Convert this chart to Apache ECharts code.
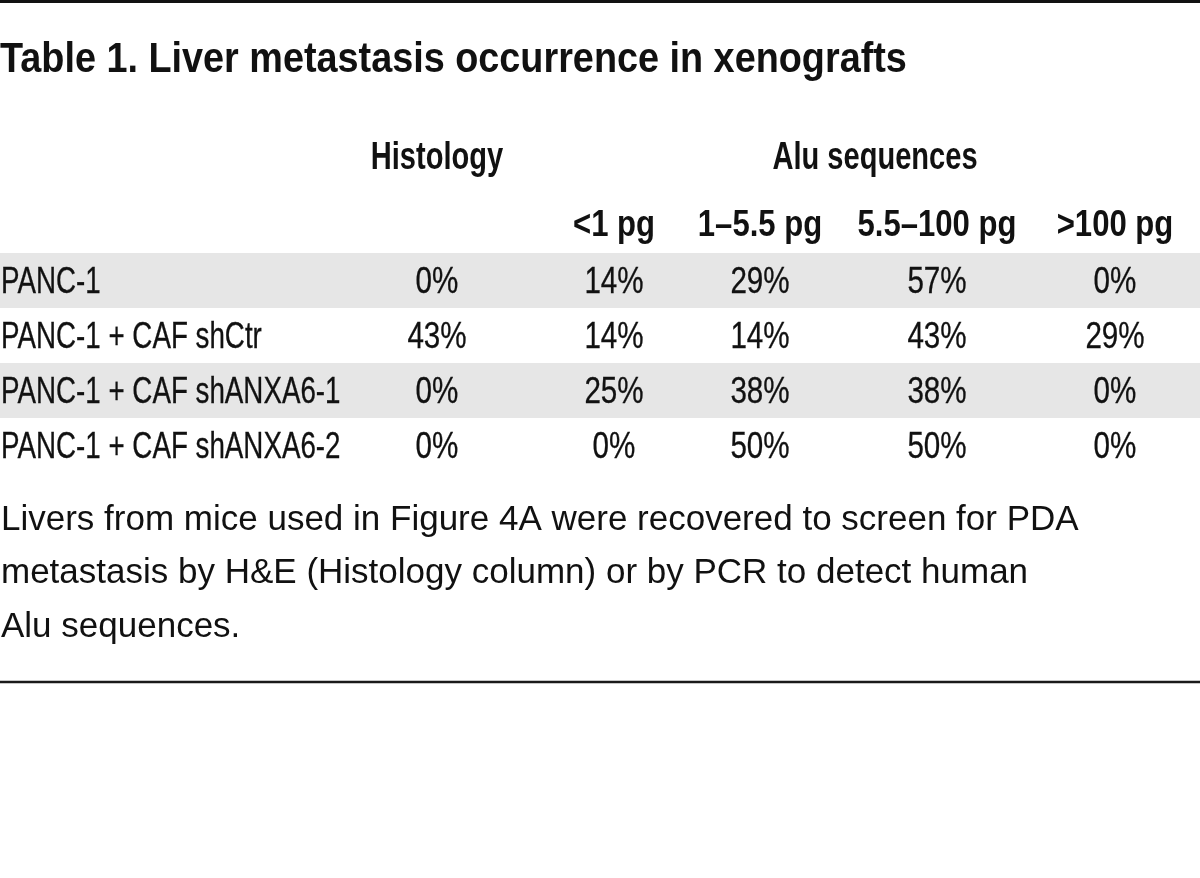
<!DOCTYPE html>
<html><head><meta charset="utf-8">
<script src="https://cdn.jsdelivr.net/npm/echarts@6.0.0/dist/echarts.min.js"></script>
<style>html,body{margin:0;padding:0;background:#fff}#chart{width:1200px;height:878px}</style>
</head><body><div id="chart"></div>
<script>
// ---- data ----
const titleText = 'Table 1. Liver metastasis occurrence in xenografts';
const groupHeaders = ['Histology', 'Alu sequences'];
const subHeaders = ['<1 pg', '1–5.5 pg', '5.5–100 pg', '>100 pg'];
const rowLabels = ['PANC-1', 'PANC-1 + CAF shCtr', 'PANC-1 + CAF shANXA6-1', 'PANC-1 + CAF shANXA6-2'];
const histology = [0, 43, 0, 0];
const aluLt1 = [14, 14, 25, 0];
const alu1to55 = [29, 14, 38, 50];
const alu55to100 = [57, 43, 38, 50];
const aluGt100 = [0, 29, 0, 0];
const footnoteLines = [
  'Livers from mice used in Figure 4A were recovered to screen for PDA',
  'metastasis by H&E (Histology column) or by PCR to detect human',
  'Alu sequences.'
];

// ---- layout / style ----
const W = 1200;
const colX = [437, 614, 760, 937, 1115];      // column centres
const groupX = [437, 875];
const FONT = '"Liberation Sans", Arial, sans-serif';
const ink = '#111111';
const columns = [histology, aluLt1, alu1to55, alu55to100, aluGt100];

const chart = echarts.init(document.getElementById('chart'), null, {renderer: 'canvas'});

function textCell(x, y, text, font, align, sx) {
  return {
    type: 'text', x: x, y: y, scaleX: sx, scaleY: 1,
    style: {text: text, fill: ink, font: font, align: align, verticalAlign: 'middle',
            stroke: ink, lineWidth: 0.3}
  };
}

const cellSeries = columns.map((vals, c) => ({
  type: 'custom',
  silent: true,
  coordinateSystem: 'cartesian2d',
  data: vals.map((v, r) => [colX[c], r]),
  renderItem: (params, api) => {
    const p = api.coord([api.value(0), api.value(1)]);
    return textCell(p[0], p[1] + 2, vals[params.dataIndex] + '%', '37px ' + FONT, 'center', 0.8);
  }
}));

const rowLabelSeries = {
  type: 'custom',
  silent: true,
  coordinateSystem: 'cartesian2d',
  data: rowLabels.map((t, r) => [0, r]),
  renderItem: (params, api) => {
    const p = api.coord([api.value(0), api.value(1)]);
    return textCell(p[0] + 1, p[1] + 2, rowLabels[params.dataIndex], '37px ' + FONT, 'left', 0.75);
  }
};

const graphics = [
  {type: 'line', shape: {x1: 0, y1: 1.5, x2: W, y2: 1.5}, style: {stroke: ink, lineWidth: 3}},
  {type: 'line', shape: {x1: 0, y1: 682, x2: W, y2: 682}, style: {stroke: '#1a1a1a', lineWidth: 2.5}},
  {type: 'text', x: 0, y: 60, scaleX: 0.9,
   style: {text: titleText, fill: ink, font: 'bold 42px ' + FONT, align: 'left', verticalAlign: 'middle'}}
];
groupHeaders.forEach((t, i) => graphics.push({
  type: 'text', x: groupX[i], y: 158, scaleX: 0.745,
  style: {text: t, fill: ink, font: 'bold 39px ' + FONT, align: 'center', verticalAlign: 'middle'}
}));
subHeaders.forEach((t, i) => graphics.push({
  type: 'text', x: colX[i + 1], y: 226, scaleX: 0.84,
  style: {text: t, fill: ink, font: 'bold 37px ' + FONT, align: 'center', verticalAlign: 'middle'}
}));
footnoteLines.forEach((t, i) => graphics.push({
  type: 'text', x: 1, y: 520 + i * 53.5,
  style: {text: t, fill: ink, font: '35px ' + FONT, align: 'left', verticalAlign: 'middle'}
}));

chart.setOption({
  animation: false,
  backgroundColor: '#ffffff',
  grid: {left: 0, right: 0, top: 253, height: 220, containLabel: false},
  xAxis: {type: 'value', min: 0, max: W, show: false},
  yAxis: {
    type: 'category', data: rowLabels, inverse: true,
    axisLine: {show: false}, axisTick: {show: false}, axisLabel: {show: false},
    splitLine: {show: false},
    splitArea: {show: true, areaStyle: {color: ['#e6e6e6', '#ffffff']}}
  },
  series: [rowLabelSeries].concat(cellSeries),
  graphic: graphics
});
</script></body></html>
